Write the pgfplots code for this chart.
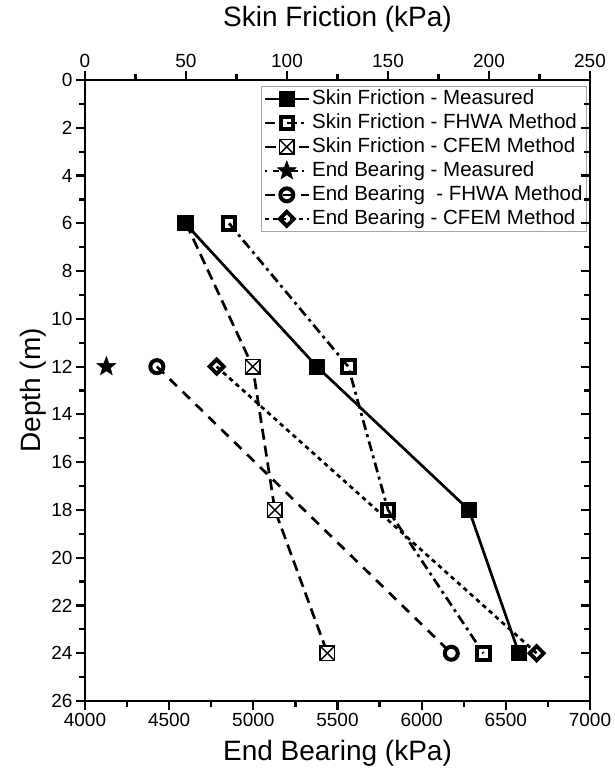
\documentclass[border=0pt]{standalone}
\usepackage{fontspec}
\setmainfont{Liberation Sans}
\usepackage{pgfplots}
\pgfplotsset{compat=1.18}
\usetikzlibrary{calc}

\pgfdeclareplotmark{boxx}{%
  \pgfpathrectangle{\pgfqpoint{-\pgfplotmarksize}{-\pgfplotmarksize}}{\pgfqpoint{2\pgfplotmarksize}{2\pgfplotmarksize}}%
  \pgfusepathqfillstroke
  \pgfpathmoveto{\pgfqpoint{-\pgfplotmarksize}{-\pgfplotmarksize}}%
  \pgfpathlineto{\pgfqpoint{\pgfplotmarksize}{\pgfplotmarksize}}%
  \pgfpathmoveto{\pgfqpoint{-\pgfplotmarksize}{\pgfplotmarksize}}%
  \pgfpathlineto{\pgfqpoint{\pgfplotmarksize}{-\pgfplotmarksize}}%
  \pgfusepathqstroke}

\pgfdeclareplotmark{fstar}{%
  \pgfpathmoveto{\pgfpointpolar{90}{\pgfplotmarksize}}%
  \pgfpathlineto{\pgfpointpolar{126}{0.42\pgfplotmarksize}}%
  \pgfpathlineto{\pgfpointpolar{162}{\pgfplotmarksize}}%
  \pgfpathlineto{\pgfpointpolar{198}{0.42\pgfplotmarksize}}%
  \pgfpathlineto{\pgfpointpolar{234}{\pgfplotmarksize}}%
  \pgfpathlineto{\pgfpointpolar{270}{0.42\pgfplotmarksize}}%
  \pgfpathlineto{\pgfpointpolar{306}{\pgfplotmarksize}}%
  \pgfpathlineto{\pgfpointpolar{342}{0.42\pgfplotmarksize}}%
  \pgfpathlineto{\pgfpointpolar{18}{\pgfplotmarksize}}%
  \pgfpathlineto{\pgfpointpolar{54}{0.42\pgfplotmarksize}}%
  \pgfpathclose
  \pgfusepathqfillstroke}

\pgfplotsset{
  sfmeas/.style={black, line width=2.7pt, solid, mark=square*, mark size=7.5pt, mark options={solid, line width=1pt, fill=black}},
  sffhwa/.style={black, line width=2.7pt, dash pattern=on 10pt off 4.5pt on 3pt off 4.5pt, mark=square, mark size=6.3pt, mark options={solid, line width=4pt, fill=white}},
  sfcfem/.style={black, line width=2.7pt, dash pattern=on 11pt off 6pt, mark=boxx, mark size=7.3pt, mark options={solid, line width=1.4pt, fill=white}},
  ebmeas/.style={black, line width=2.7pt, dash pattern=on 2.5pt off 6pt on 6pt off 4pt, mark=fstar, mark size=10pt, mark options={solid, line width=0.5pt, fill=black}},
  ebfhwa/.style={black, line width=2.7pt, dash pattern=on 10pt off 8pt, mark=o, mark size=6.5pt, mark options={solid, line width=4pt, fill=white}},
  ebcfem/.style={black, line width=2.7pt, dash pattern=on 4.5pt off 4pt, mark=square, mark size=5pt, mark options={solid, rotate=45, line width=3.8pt, fill=white}},
  common/.style={
    scale only axis, width=505pt, height=621pt,
    ymin=0, ymax=26, y dir=reverse,
    axis line style={line width=2.6pt},
    every tick/.style={black, line width=2.2pt},
    major tick length=9pt, minor tick length=6pt,
    tick label style={font=\fontsize{19}{22}\selectfont},
    /pgf/number format/assume math mode=true,
    label style={font=\fontsize{28}{32}\selectfont},
  },
  legend image code/.code={%
    \draw[mark repeat=2,mark phase=2,#1] plot coordinates {(0pt,0pt) (22pt,0pt) (44pt,0pt)};},
}

\begin{document}
\begin{tikzpicture}
% Skin friction axis (top x axis, left y axis)
\begin{axis}[common, name=A,
  xmin=0, xmax=250,
  xtick={0,50,...,250}, minor x tick num=1,
  ytick={0,2,...,26}, minor y tick num=1,
  tick align=outside,
  xtick pos=top, ytick pos=left, xticklabel pos=top,
  xlabel={Skin Friction (kPa)},
  ylabel={Depth (m)},
  xlabel style={at={(axis description cs:0.5,1.098)}, anchor=center},
  ylabel style={at={(axis description cs:-0.102,0.5)}, anchor=center},
]
\addplot[sfcfem] coordinates {(50,6) (83,12) (94,18) (120,24)};
\addplot[sffhwa] coordinates {(71.3,6) (130.3,12) (150,18) (197.2,24)};
\addplot[sfmeas] coordinates {(49.6,6) (114.8,12) (190.1,18) (214.8,24)};
\end{axis}
% End bearing axis (bottom x axis)
\begin{axis}[common,
  xmin=4000, xmax=7000,
  axis x line*=bottom, axis y line=none,
  xtick={4000,4500,...,7000}, minor x tick num=1,
  tick align=outside,
  scaled x ticks=false,
  x tick label style={/pgf/number format/1000 sep={}},
  xlabel={End Bearing (kPa)},
  xlabel style={at={(axis description cs:0.5,-0.084)}, anchor=center},
  legend cell align=left,
  legend style={at={(axis description cs:0.994,0.99)}, anchor=north east,
    draw=gray!70, line width=0.8pt, fill=white,
    font=\fontsize{20.5}{23}\selectfont, row sep=1.5pt, inner xsep=2pt, inner ysep=1pt,
    nodes={inner xsep=2pt, inner ysep=1.5pt, text height=15pt, text depth=4.5pt}},
]
\addlegendimage{sfmeas}\addlegendentry{Skin Friction - Measured}
\addlegendimage{sffhwa}\addlegendentry{Skin Friction - FHWA Method}
\addlegendimage{sfcfem}\addlegendentry{Skin Friction - CFEM Method}
\addplot[ebmeas] coordinates {(4127,12)};
\addlegendentry{End Bearing - Measured}
\addplot[ebfhwa] coordinates {(4427,12) (6176,24)};
\addlegendentry{End Bearing\ \ - FHWA Method}
\addplot[ebcfem] coordinates {(4782,12) (6683,24)};
\addlegendentry{End Bearing - CFEM Method}
\end{axis}
% Right axis ticks (inside)
\begin{axis}[common,
  xmin=0, xmax=250,
  axis y line*=right, axis x line=none,
  ytick={0,2,...,26}, minor y tick num=1, yticklabels={},
  tick align=inside,
]
\end{axis}
\pgfresetboundingbox
\path ($(A.south west)+(-85pt,-68pt)$) rectangle ($(A.north east)+(25pt,80pt)$);
\end{tikzpicture}
\end{document}
